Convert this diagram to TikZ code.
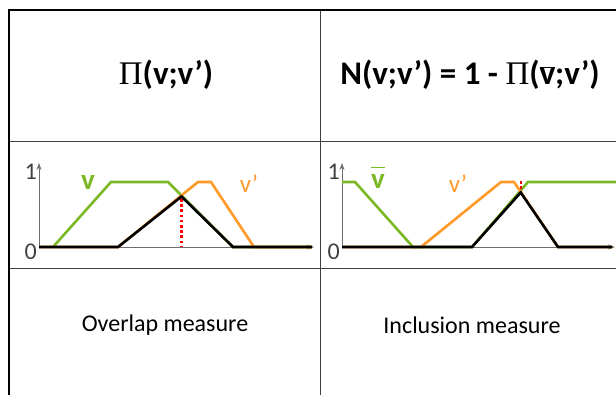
\documentclass[tikz,border=0pt]{standalone}
\usepackage{fontspec}
\setmainfont{Carlito}
\newfontfamily\grk{Liberation Serif}
\usetikzlibrary{arrows.meta}
\definecolor{vgreen}{RGB}{122,184,36}
\definecolor{vorange}{RGB}{255,153,40}
\definecolor{gridc}{RGB}{64,64,64}
\definecolor{axisc}{RGB}{110,110,110}
\newcommand\vbarsym{\ensuremath{\overline{\mbox{v}}}}
\newcommand\vbarhigh{\ensuremath{\overline{\mbox{\vphantom{l}v}}}}
\tikzset{
  frame/.style={line width=2.6pt,black},
  cell/.style={line width=1pt,gridc},
  axis/.style={line width=0.9pt,axisc,-{Stealth[length=7pt,width=5pt]}},
  curve/.style={line width=2.6pt,line join=miter},
  gcurve/.style={curve,vgreen},
  ocurve/.style={curve,vorange},
  kcurve/.style={curve,black},
  reddot/.style={line width=2.6pt,red,dash pattern=on 2.6pt off 2.6pt},
  title/.style={font=\fontsize{33}{36}\selectfont\bfseries,anchor=center},
  caption/.style={font=\fontsize{24}{26}\selectfont,anchor=center},
  tick/.style={font=\fontsize{24}{26}\selectfont,text=gridc,inner sep=0pt},
  lbl/.style={font=\fontsize{25}{27}\selectfont,inner sep=0pt},
  blbl/.style={font=\fontsize{29}{31}\selectfont\bfseries,inner sep=0pt,text=vgreen}
}
\begin{document}
\begin{tikzpicture}[x=1pt,y=-1pt]
\useasboundingbox (0,0) rectangle (616,395);
% table
\draw[cell] (9,142) -- (616,142);
\draw[cell] (9,269) -- (616,269);
\draw[cell] (320,10) -- (320,395);
\draw[frame] (9,395) -- (9,10) -- (616,10);
% titles
\node[title] (t1) at (166,75) {{\grk\mdseries Π}(v;v’)};
\node[title] (t2) at (470,75) {N(v;v’) = 1 - {\grk\mdseries Π}(\vbarsym;v’)};
% captions
\node[caption] (c1) at (165,325) {Overlap measure};
\node[caption] (c2) at (472,325) {Inclusion measure};
% left graph
\draw[axis] (39,247) -- (39,163);
\draw[axis] (39,247) -- (314,247);
\node[tick,anchor=east] (one1) at (37,172) {1};
\node[tick,anchor=east] (zero1) at (37,252) {0};
\draw[gcurve] (53,247) -- (111,182) -- (168,182) -- (233,247) -- (312,247);
\draw[ocurve] (39,247) -- (118,247) -- (198,182) -- (211,182) -- (254,247) -- (312,247);
\draw[reddot] (181.5,199) -- (181.5,247);
\draw[kcurve] (39,247) -- (118,247) -- (181.5,196.5) -- (233,247) -- (312,247);
\node[blbl] (lv1) at (88,182) {v};
\node[lbl,text=vorange] (lo1) at (249,184) {v’};
% right graph
\draw[axis] (342,247) -- (342,163);
\draw[axis] (342,247) -- (615,247);
\node[tick,anchor=east] (one2) at (340,172) {1};
\node[tick,anchor=east] (zero2) at (340,252) {0};
\draw[gcurve] (342,182) -- (355,182) -- (413,247) -- (472,247) -- (528,182) -- (616,182);
\draw[ocurve] (342,247) -- (421,247) -- (501,182) -- (514,182) -- (558,247) -- (612,247);
\draw[reddot] (521,181) -- (521,192);
\draw[kcurve] (342,247) -- (472,247) -- (520.7,192.5) -- (558,247) -- (612,247);
\node[blbl,anchor=base] (lv2) at (378,189) {\vbarhigh};
\node[lbl,text=vorange] (lo2) at (458,184) {v’};
\end{tikzpicture}
\end{document}
